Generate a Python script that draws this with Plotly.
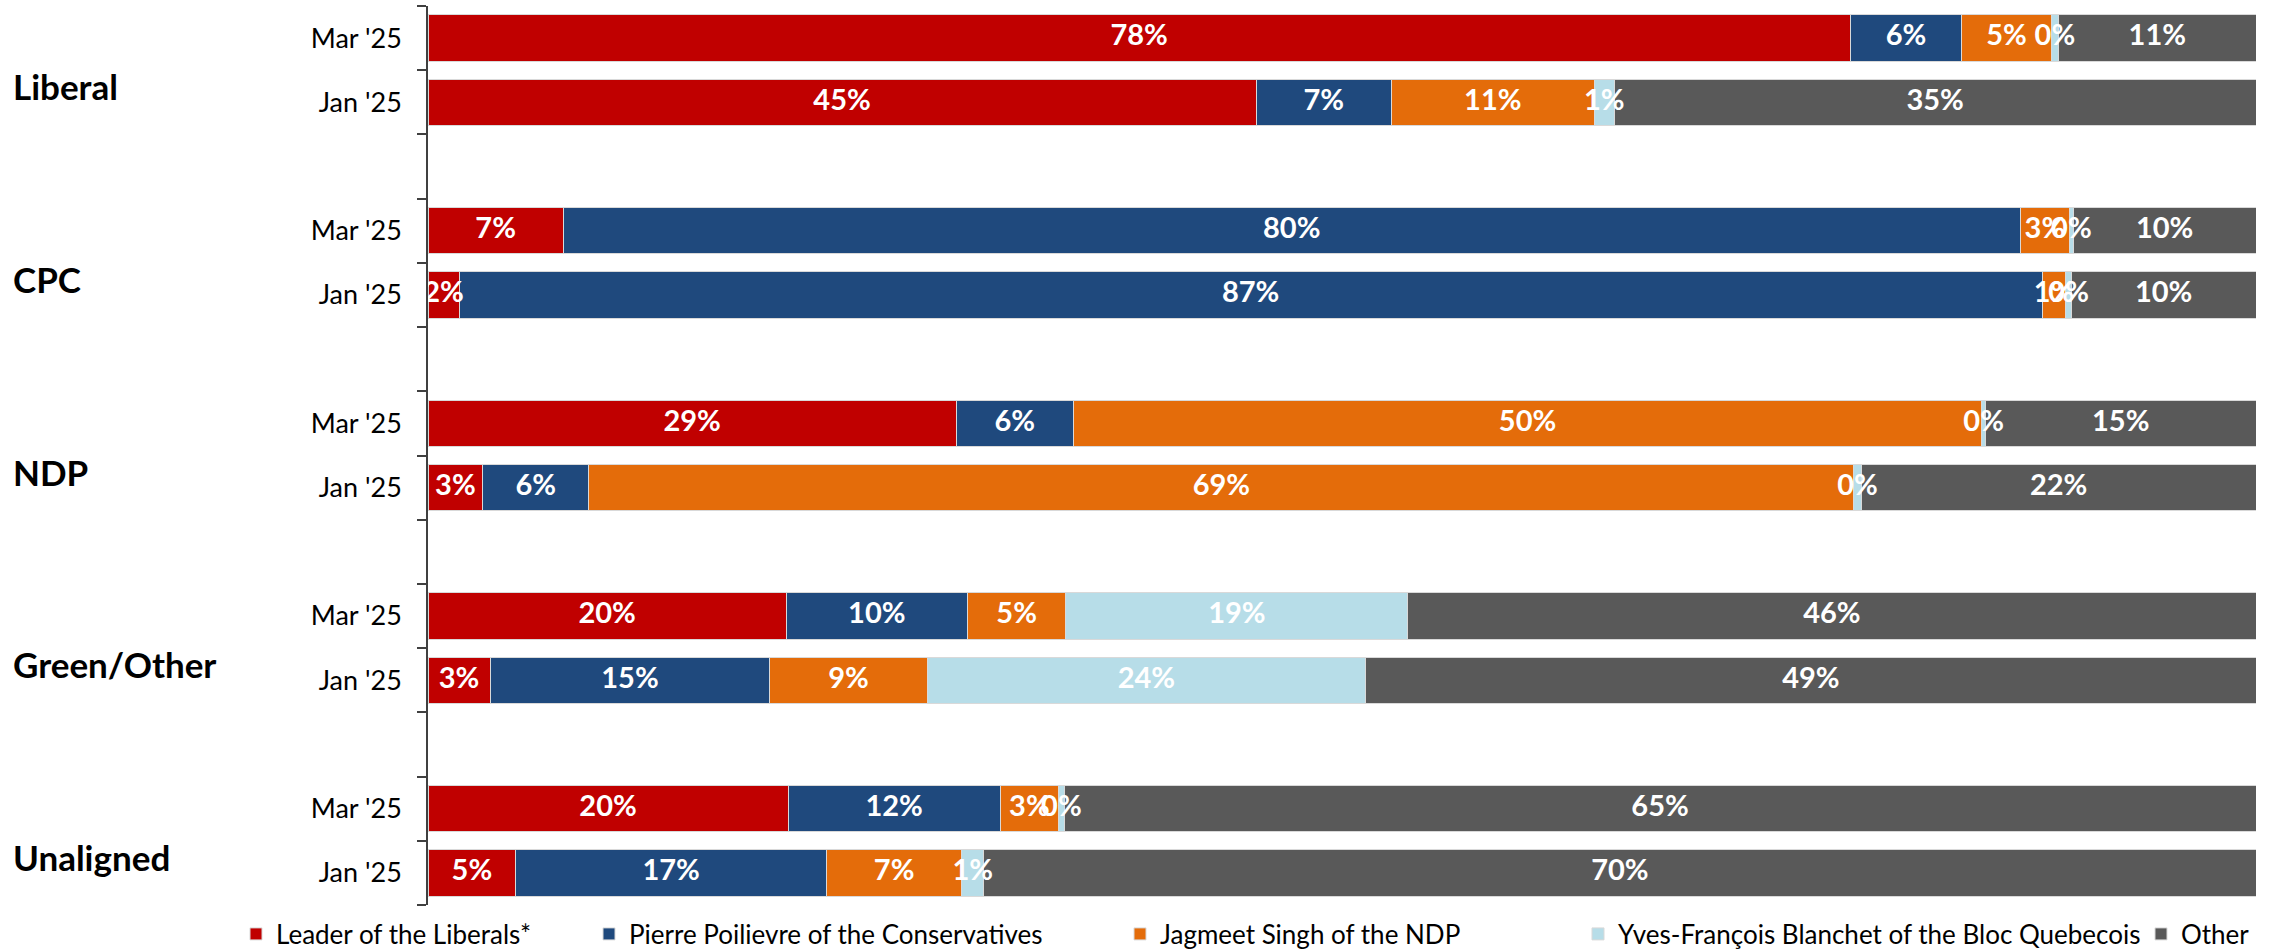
import plotly.graph_objects as go

# ---- data ----
groups = ["Liberal", "CPC", "NDP", "Green/Other", "Unaligned"]
periods = ["Mar '25", "Jan '25"]
series_names = [
    "Leader of the Liberals*",
    "Pierre Poilievre of the Conservatives",
    "Jagmeet Singh of the NDP",
    "Yves-François Blanchet of the Bloc Quebecois",
    "Other",
]
# values per bar, order: Liberal Mar, Liberal Jan, CPC Mar, CPC Jan, NDP Mar, NDP Jan,
# Green Mar, Green Jan, Unaligned Mar, Unaligned Jan
liberals = [77.8, 45.3, 7.4, 1.7, 28.9, 3.0, 19.6, 3.4, 19.7, 4.8]
conservatives = [6.1, 7.4, 79.7, 86.6, 6.4, 5.8, 9.9, 15.3, 11.6, 17.0]
ndp = [4.9, 11.1, 2.7, 1.3, 49.7, 69.2, 5.4, 8.6, 3.2, 7.4]
bloc = [0.4, 1.1, 0.2, 0.3, 0.2, 0.4, 18.7, 24.0, 0.3, 1.2]
other = [10.8, 35.1, 10.0, 10.1, 14.8, 21.6, 46.4, 48.7, 65.2, 69.6]
colors = ["#C00000", "#1F497D", "#E46C0A", "#B7DDE8", "#595959"]

series_values = [liberals, conservatives, ndp, bloc, other]

# ---- category layout (with blank spacer rows between groups) ----
cat_ids = []
cat_text = []
bar_ids = []
for gi, g in enumerate(groups):
    for p in periods:
        cid = f"{g}|{p}"
        cat_ids.append(cid)
        cat_text.append(p)
        bar_ids.append(cid)
    if gi < len(groups) - 1:
        cat_ids.append(f"blank{gi}")
        cat_text.append("")

W, H = 2291, 949
ml, mr, mt, mb = 428, 35, 6, 44
pw = W - ml - mr
ph = H - mt - mb

# legend text start positions (pixels) for each entry
legend_text_px = [275, 628, 1159, 1617, 2180]
legend_names = ["legend", "legend2", "legend3", "legend4", "legend5"]

fig = go.Figure()
for name, vals, col, lg in zip(series_names, series_values, colors, legend_names):
    fig.add_trace(go.Bar(
        y=bar_ids,
        x=vals,
        orientation="h",
        name=name,
        legend=lg,
        marker=dict(color=col, line=dict(color="#d9d9d9", width=1)),
        hoverinfo="skip",
    ))

# labels on top of all bars
starts = [0.0] * len(bar_ids)
for vals in series_values:
    mids = [s + v / 2 for s, v in zip(starts, vals)]
    fig.add_trace(go.Scatter(
        y=bar_ids,
        x=mids,
        mode="text",
        text=[f"{round(v)}%" for v in vals],
        textposition="middle center",
        textfont=dict(family="Lato", size=29, color="white", weight="bold"),
        showlegend=False,
        hoverinfo="skip",
        cliponaxis=False,
    ))
    starts = [s + v for s, v in zip(starts, vals)]

# group labels
for gi, g in enumerate(groups):
    jan_index = cat_ids.index(f"{g}|{periods[1]}")
    fig.add_annotation(
        xref="paper", yref="y",
        x=(11 - ml) / pw, y=jan_index - 0.25,
        text=f"<b>{g}</b>", showarrow=False,
        xanchor="left", yanchor="middle",
        font=dict(family="Lato", size=35, color="black"),
    )

legend_layout = {}
for lg, tx in zip(legend_names, legend_text_px):
    legend_layout[lg] = dict(
        orientation="h",
        x=(tx - 39 - ml) / pw, xanchor="left",
        y=(ph + mt - 934) / ph, yanchor="middle",
        font=dict(family="Lato", size=26, color="black"),
        itemclick=False, itemdoubleclick=False,
        bgcolor="rgba(0,0,0,0)",
    )

fig.update_layout(
    width=W, height=H,
    margin=dict(l=ml, r=mr, t=mt, b=mb, autoexpand=False),
    barmode="stack",
    bargap=0.28,
    plot_bgcolor="white",
    paper_bgcolor="white",
    font=dict(family="Lato", color="black"),
    showlegend=True,
    xaxis=dict(range=[0, 100], visible=False, fixedrange=True),
    yaxis=dict(
        type="category",
        categoryorder="array",
        categoryarray=cat_ids,
        tickmode="array",
        tickvals=cat_ids,
        ticktext=cat_text,
        tickson="boundaries",
        range=[len(cat_ids) - 0.5, -0.5],
        ticks="outside",
        ticklen=9,
        tickwidth=1.5,
        tickcolor="#404040",
        showline=True,
        linecolor="#404040",
        linewidth=1.5,
        showgrid=False,
        tickfont=dict(family="Lato", size=27, color="black"),
        ticklabelstandoff=19,
    ),
    **legend_layout,
)

fig.write_html(
    "out.html",
    config={"displayModeBar": False},
    post_script="document.body.style.margin='0';document.body.style.overflow='hidden';",
)
